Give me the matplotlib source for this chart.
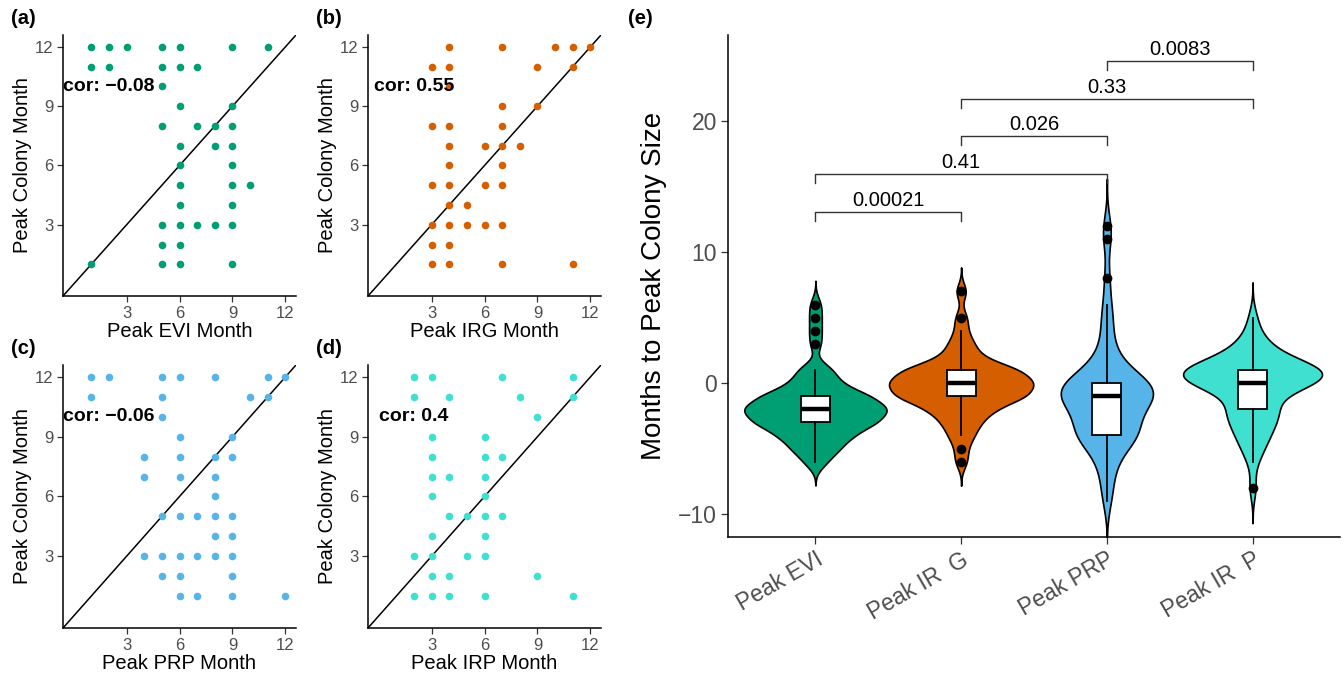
import numpy as np
import matplotlib
matplotlib.use("Agg")
import matplotlib.pyplot as plt

plt.rcParams['font.family'] = ['Liberation Sans', 'DejaVu Sans']

# /=========================================================================
# scatter data: (peak index month, peak colony month)

evi_x = [1, 2, 3, 5, 6, 9, 11, 1, 2, 5, 6, 7, 5, 6, 9, 5, 7, 8, 9, 6, 8, 9,
         6, 9, 6, 9, 10, 6, 9, 5, 6, 7, 8, 9, 5, 6, 1, 5, 6, 9]
evi_y = [12, 12, 12, 12, 12, 12, 12, 11, 11, 11, 11, 11, 10, 9, 9, 8, 8, 8, 8,
         7, 7, 7, 6, 6, 5, 5, 5, 4, 4, 3, 3, 3, 3, 3, 2, 2, 1, 1, 1, 1]

irg_x = [4, 7, 10, 11, 12, 3, 4, 9, 11, 4, 7, 9, 3, 4, 7, 4, 6, 7, 8, 4, 7,
         3, 4, 6, 7, 4, 5, 3, 4, 5, 6, 7, 3, 4, 3, 4, 7, 11]
irg_y = [12, 12, 12, 12, 12, 11, 11, 11, 11, 10, 9, 9, 8, 8, 8, 7, 7, 7, 7,
         6, 6, 5, 5, 5, 5, 4, 4, 3, 3, 3, 3, 3, 2, 2, 1, 1, 1, 1]

prp_x = [1, 2, 5, 6, 8, 11, 12, 1, 5, 10, 11, 5, 6, 9, 4, 6, 8, 9, 4, 6, 8,
         8, 5, 6, 7, 8, 9, 8, 9, 4, 5, 6, 7, 8, 9, 5, 6, 9, 6, 7, 9, 12]
prp_y = [12, 12, 12, 12, 12, 12, 12, 11, 11, 11, 11, 10, 9, 9, 8, 8, 8, 8, 7,
         7, 7, 6, 5, 5, 5, 5, 5, 4, 4, 3, 3, 3, 3, 3, 3, 2, 2, 2, 1, 1, 1, 1]

irp_x = [2, 3, 7, 11, 2, 4, 8, 11, 9, 3, 6, 3, 6, 7, 3, 4, 6, 3, 6, 4, 5, 6,
         7, 3, 6, 2, 3, 5, 6, 3, 4, 9, 2, 3, 4, 6, 11]
irp_y = [12, 12, 12, 12, 11, 11, 11, 11, 10, 9, 9, 8, 8, 8, 7, 7, 7, 6, 6, 5,
         5, 5, 5, 4, 4, 3, 3, 3, 3, 2, 2, 2, 1, 1, 1, 1, 1]

cors = ["cor: \u22120.08", "cor: 0.55", "cor: \u22120.06", "cor: 0.4"]
x_titles = ["Peak EVI Month", "Peak IRG Month", "Peak PRP Month", "Peak IRP Month"]
panel_tags = ["(a)", "(b)", "(c)", "(d)"]
colors = ["#009E73", "#D55E00", "#56B4E9", "#40E0D0"]

# months to peak colony size: value / count per group
evi_vals = [-6, -5, -4, -3, -2, -1, 0, 1, 3, 4, 5, 6]
evi_counts = [2, 4, 6, 10, 12, 9, 4, 3, 1, 1, 1, 1]
irg_vals = [-6, -5, -4, -3, -2, -1, 0, 1, 2, 3, 4, 5, 7]
irg_counts = [1, 1, 2, 3, 5, 10, 11, 9, 3, 2, 1, 1, 1]
prp_vals = [-9, -8, -7, -6, -5, -4, -3, -2, -1, 0, 1, 2, 3, 4, 5, 6, 8, 11, 12]
prp_counts = [1, 1, 1, 2, 2, 8, 4, 5, 10, 9, 3, 2, 1, 1, 1, 1, 1, 1, 1]
irp_vals = [-8, -6, -5, -4, -3, -2, -1, 0, 1, 2, 3, 4, 5]
irp_counts = [1, 1, 2, 3, 4, 5, 3, 12, 15, 5, 3, 1, 1]

groups = ["Peak EVI", "Peak IR  G", "Peak PRP", "Peak IR  P"]

bracket_pairs = [(1, 2), (1, 3), (2, 3), (2, 4), (3, 4)]
bracket_y = [13.1, 16.0, 18.9, 21.7, 24.6]
bracket_labels = ["0.00021", "0.41", "0.026", "0.33", "0.0083"]

# =========================================================================/

W, H = 1344, 678


def px_axes(fig, l, t, r, b):
    return fig.add_axes([l/W, 1 - b/H, (r - l)/W, (b - t)/H])


def classic(ax, size):
    for s in ["top", "right"]:
        ax.spines[s].set_visible(False)
    for s in ["left", "bottom"]:
        ax.spines[s].set_linewidth(1.1)
    ax.tick_params(length=4, width=0.9, color="#333333", labelcolor="#4D4D4D",
                   labelsize=size, pad=3)


def nrd0(x):
    iqr = np.percentile(x, 75) - np.percentile(x, 25)
    return 0.9*min(np.std(x, ddof=1), iqr/1.34)*len(x)**-0.2


def kde(x):
    bw = nrd0(x)
    y = np.linspace(x.min() - 3*bw, x.max() + 3*bw, 512)
    d = np.exp(-0.5*((y[:, None] - x[None, :])/bw)**2).sum(axis=1)
    return y, d/(len(x)*bw*np.sqrt(2*np.pi))


if __name__ == "__main__":
    fig = plt.figure(figsize=(W/100, H/100), dpi=100)

    boxes = [(63, 35, 296, 296), (368, 35, 601, 296),
             (63, 365, 296, 628), (368, 365, 601, 628)]
    xs = [evi_x, irg_x, prp_x, irp_x]
    ys = [evi_y, irg_y, prp_y, irp_y]

    for i in range(4):
        ax = px_axes(fig, *boxes[i])
        classic(ax, 12)
        ax.set_xlim(-0.6, 12.6)
        ax.set_ylim(-0.6, 12.6)
        ax.set_xticks([3, 6, 9, 12])
        ax.set_yticks([3, 6, 9, 12])
        ax.plot([-0.6, 12.6], [-0.6, 12.6], color="black", lw=1.1, zorder=1)
        ax.scatter(xs[i], ys[i], s=30, color=colors[i], lw=0, zorder=2)
        ax.text(2, 10, cors[i], ha="center", va="center", fontsize=14,
                fontweight="bold", zorder=3)
        ax.set_xlabel(x_titles[i], fontsize=14.5, labelpad=1)
        ax.set_ylabel("Peak Colony Month", fontsize=14.5, labelpad=2)
        fig.text((boxes[i][0] - 52)/W, 1 - (boxes[i][1] - 17)/H, panel_tags[i],
                 fontsize=14.5, fontweight="bold", va="center", ha="left")

    # violin panel
    ax = px_axes(fig, 728, 35, 1340, 537)
    classic(ax, 16.5)
    ax.tick_params(length=5)
    data = [np.repeat(evi_vals, evi_counts), np.repeat(irg_vals, irg_counts),
            np.repeat(prp_vals, prp_counts), np.repeat(irp_vals, irp_counts)]
    dens = [kde(np.asarray(d, float)) for d in data]
    dmax = max(d.max() for _, d in dens)
    for i, (y, d) in enumerate(dens):
        pos = i + 1
        half = d/dmax*0.495
        ax.fill_betweenx(y, pos - half, pos + half, facecolor=colors[i],
                         edgecolor="black", lw=1.2, zorder=1)
    ax.boxplot(data, positions=[1, 2, 3, 4], widths=0.2, patch_artist=True,
               showcaps=False,
               boxprops=dict(facecolor="white", edgecolor="black", lw=1.3),
               medianprops=dict(color="black", lw=3.2),
               whiskerprops=dict(color="black", lw=1.3),
               flierprops=dict(marker="o", markerfacecolor="black",
                               markeredgecolor="black", markersize=6),
               zorder=2)
    for (a, b), yb, lab in zip(bracket_pairs, bracket_y, bracket_labels):
        ax.plot([a, a, b, b], [yb - 0.7, yb, yb, yb - 0.7], color="#333333",
                lw=1.0)
        ax.text((a + b)/2, yb + 0.15, lab, ha="center", va="bottom",
                fontsize=14.5)
    ax.set_xlim(0.4, 4.6)
    ax.set_ylim(-11.76, 26.6)
    ax.set_yticks([-10, 0, 10, 20])
    ax.set_xticks([1, 2, 3, 4])
    ax.set_xticklabels(groups, rotation=30, ha="right", rotation_mode="anchor")
    ax.set_ylabel("Months to Peak Colony Size", fontsize=20, labelpad=8)
    fig.text(628/W, 1 - 18/H, "(e)", fontsize=14.5, fontweight="bold",
             va="center", ha="left")

    fig.savefig("out.png", dpi=100)
